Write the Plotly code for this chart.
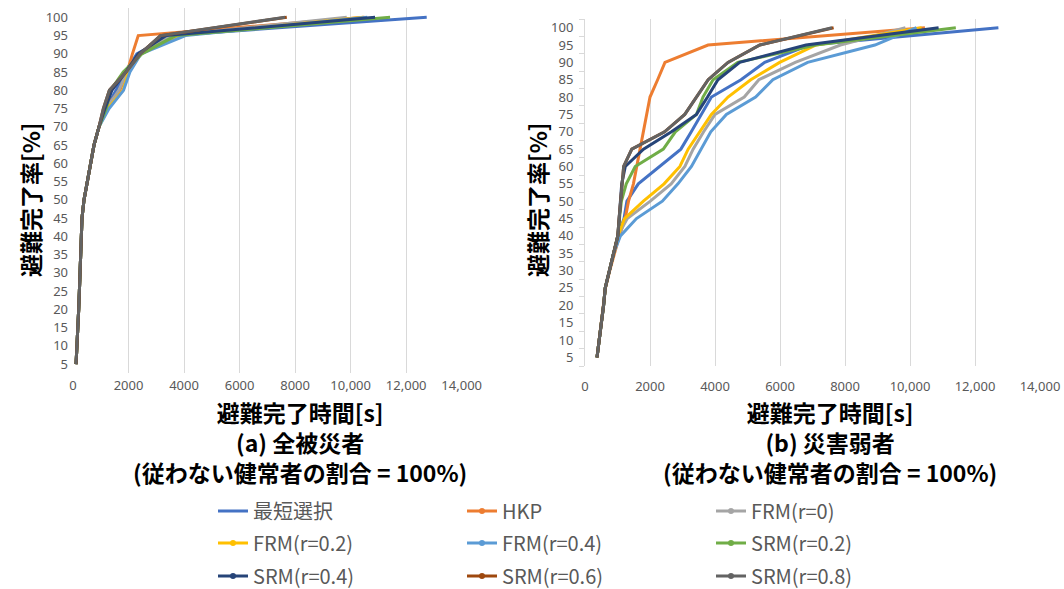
import plotly.graph_objects as go

# ---------------- data ----------------
levels = [5, 10, 15, 20, 25, 30, 35, 40, 45, 50, 55, 60, 65, 70, 75, 80, 85, 90, 95, 100]

names = ["最短選択", "HKP", "FRM(r=0)", "FRM(r=0.2)", "FRM(r=0.4)",
         "SRM(r=0.2)", "SRM(r=0.4)", "SRM(r=0.6)", "SRM(r=0.8)"]
colors = ["#4472C4", "#ED7D31", "#A5A5A5", "#FFC000", "#5B9BD5",
          "#70AD47", "#264478", "#9E480E", "#636363"]

# (a) all evacuees – completion time [s] at each completion level
a_shortest = [110, 150, 180, 205, 230, 252, 270, 288, 324, 396, 516, 636, 756, 936, 1180, 1550, 1880, 2300, 3500, 12740]
a_hkp      = [110, 150, 180, 205, 230, 252, 270, 288, 324, 396, 516, 636, 756, 936, 1150, 1690, 1950, 2140, 2350, 10500]
a_frm0     = [110, 150, 180, 205, 230, 252, 270, 288, 324, 396, 516, 636, 756, 936, 1200, 1650, 1950, 2380, 3600, 9860]
a_frm02    = [110, 150, 180, 205, 230, 252, 270, 288, 324, 396, 516, 636, 756, 936, 1250, 1800, 2000, 2400, 3850, 10460]
a_frm04    = [110, 150, 180, 205, 230, 252, 270, 288, 324, 396, 516, 636, 756, 936, 1300, 1820, 2050, 2450, 4050, 10600]
a_srm02    = [110, 150, 180, 205, 230, 252, 270, 288, 324, 396, 516, 636, 756, 936, 1200, 1350, 1810, 2480, 3700, 11420]
a_srm04    = [110, 150, 180, 205, 230, 252, 270, 288, 324, 396, 516, 636, 756, 936, 1150, 1400, 1900, 2350, 3350, 10880]
a_srm06    = [110, 150, 180, 205, 230, 252, 270, 288, 324, 396, 516, 636, 756, 936, 1093, 1310, 1910, 2420, 3150, 7700]
a_srm08    = [110, 150, 180, 205, 230, 252, 270, 288, 324, 396, 516, 636, 756, 936, 1093, 1310, 1910, 2420, 3150, 7640]

# (b) vulnerable evacuees
b_shortest = [370, 440, 500, 572, 623, 745, 880, 1010, 1200, 1290, 1640, 2280, 2950, 3270, 3570, 3890, 4800, 5530, 6900, 12720]
b_hkp      = [370, 440, 500, 572, 630, 760, 900, 1060, 1236, 1340, 1490, 1590, 1695, 1800, 1890, 2000, 2235, 2460, 3786, 10460]
b_frm0     = [370, 440, 500, 572, 623, 745, 880, 1010, 1300, 2010, 2650, 3073, 3327, 3650, 4000, 4900, 5350, 6470, 7860, 9860]
b_frm02    = [370, 440, 500, 572, 623, 745, 880, 1010, 1215, 1797, 2433, 2920, 3174, 3532, 3888, 4400, 5100, 5990, 7110, 10360]
b_frm04    = [370, 440, 500, 572, 623, 745, 880, 1090, 1583, 2380, 2860, 3275, 3580, 3870, 4350, 5250, 5780, 6850, 8920, 10200]
b_srm02    = [370, 440, 500, 572, 623, 745, 880, 1010, 1060, 1120, 1270, 1545, 2410, 2780, 3430, 3630, 3940, 4700, 7100, 11410]
b_srm04    = [370, 440, 500, 572, 623, 745, 880, 1010, 1050, 1090, 1130, 1240, 1800, 2660, 3430, 3770, 4090, 4760, 6800, 10880]
b_srm06    = [370, 440, 500, 572, 623, 745, 880, 1010, 1050, 1090, 1130, 1190, 1440, 2450, 3070, 3430, 3790, 4400, 5380, 7650]
b_srm08    = [370, 440, 500, 572, 623, 745, 880, 1010, 1050, 1090, 1130, 1190, 1440, 2450, 3070, 3430, 3790, 4400, 5380, 7600]

x_tickvals = [0, 2000, 4000, 6000, 8000, 10000, 12000, 14000]
x_ticktext = ["0", "2000", "4000", "6000", "8000", "10,000", "12,000", "14,000"]
y_tickvals = levels
y_minor = [2.5 + 5 * i for i in range(21)]

series_a = [a_shortest, a_hkp, a_frm0, a_frm02, a_frm04, a_srm02, a_srm04, a_srm06, a_srm08]
series_b = [b_shortest, b_hkp, b_frm0, b_frm02, b_frm04, b_srm02, b_srm04, b_srm06, b_srm08]
legend_ids = ["legend", "legend", "legend", "legend2", "legend2", "legend2",
              "legend3", "legend3", "legend3"]

# ---------------- figure ----------------
W, H = 1064, 589
fig = go.Figure()

for i, name in enumerate(names):
    fig.add_trace(go.Scatter(
        x=series_a[i], y=levels, name=name, mode="lines",
        line=dict(color=colors[i], width=3),
        xaxis="x", yaxis="y", showlegend=False, hoverinfo="skip"))
for i, name in enumerate(names):
    fig.add_trace(go.Scatter(
        x=series_b[i], y=levels, name=name, mode="lines",
        line=dict(color=colors[i], width=3),
        xaxis="x2", yaxis="y2", showlegend=False, hoverinfo="skip"))
# legend-only entries (line with a small marker, as in the reference legend)
for i, name in enumerate(names):
    fig.add_trace(go.Scatter(
        x=[None], y=[None], name=name, mode="lines" if i == 0 else "lines+markers",
        line=dict(color=colors[i], width=3), marker=dict(size=6, color=colors[i]),
        xaxis="x", yaxis="y", legend=legend_ids[i], showlegend=True, hoverinfo="skip"))

def px(x):
    return x / W

def py(y):
    return 1 - y / H

tick_font = dict(family="Noto Sans", size=13, color="#595959")
grid = "#D9D9D9"

xa_common = dict(range=[0, 14000], tickvals=x_tickvals, ticktext=x_ticktext,
                 showgrid=True, gridcolor=grid, gridwidth=1, zeroline=False,
                 showline=False, ticks="", tickfont=tick_font)
ya_common = dict(range=[2.5, 102.5], tickvals=y_tickvals, showgrid=False,
                 zeroline=False, ticks="", tickfont=tick_font)

fig.update_layout(
    width=W, height=H, margin=dict(l=0, r=0, t=0, b=0, autoexpand=False),
    paper_bgcolor="white", plot_bgcolor="white",
    xaxis=dict(domain=[px(73), px(461.7)], anchor="y", ticklabelstandoff=3, **xa_common),
    yaxis=dict(domain=[py(373.3), py(8.2)], anchor="x", ticklabelstandoff=4, **ya_common),
    xaxis2=dict(domain=[px(585), px(1040)], anchor="y2", ticklabelstandoff=11, **xa_common),
    yaxis2=dict(domain=[py(366), py(19)], anchor="x2", showline=True, linecolor=grid,
                linewidth=1, ticklabelstandoff=8,
                minor=dict(tickvals=y_minor, ticks="outside", ticklen=5,
                           tickcolor=grid, tickwidth=1, showgrid=False),
                **ya_common),
    font=dict(family="Noto Sans CJK JP"),
)

leg_font = dict(family="Noto Sans CJK JP", size=20, color="#595959")
for key, yrow in [("legend", 511), ("legend2", 543), ("legend3", 576)]:
    fig.update_layout({key: dict(
        orientation="h", x=px(213), xanchor="left", y=py(yrow), yanchor="middle",
        entrywidth=204, entrywidthmode="pixels", itemwidth=30,
        font=leg_font, bgcolor="rgba(0,0,0,0)", borderwidth=0,
        itemclick=False, itemdoubleclick=False)})

title_font = dict(family="Noto Sans CJK JP", size=23, color="black")
annots = [
    ("<b>避難完了時間[s]</b><br><b>(a) 全被災者</b><br><b>(従わない健常者の割合 = 100%)</b>", 300),
    ("<b>避難完了時間[s]</b><br><b>(b) 災害弱者</b><br><b>(従わない健常者の割合 = 100%)</b>", 830),
]
for text, xx in annots:
    fig.add_annotation(text=text, x=px(xx), y=py(442), xref="paper", yref="paper",
                       xanchor="center", yanchor="middle", align="center",
                       showarrow=False, font=title_font)
for xx in (30, 537):
    fig.add_annotation(text="<b>避難完了率[%]</b>", x=px(xx), y=py(200), xref="paper",
                       yref="paper", xanchor="center", yanchor="middle", textangle=-90,
                       showarrow=False, font=title_font)

fig.write_html("out.html", config={"displayModeBar": False},
               post_script="document.body.style.margin='0';document.body.style.padding='0';")
